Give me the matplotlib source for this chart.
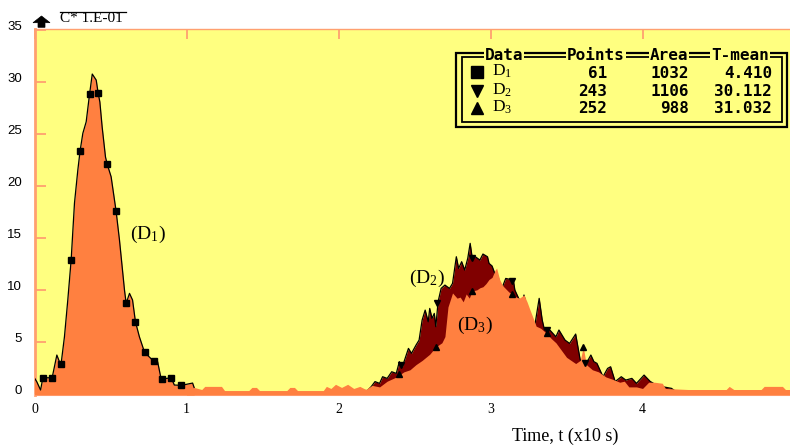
import matplotlib
matplotlib.use("Agg")
import matplotlib.pyplot as plt
from matplotlib.patches import Rectangle, Polygon
from matplotlib.lines import Line2D

plt.rcParams['mathtext.default'] = 'regular'

# ---------------- data ----------------
# D1 : first elution peak (time in x10 s, concentration in 1.E-01 units)
d1_t = [0.000, 0.015, 0.040, 0.055, 0.116, 0.147, 0.164, 0.175, 0.197, 0.219,
        0.241, 0.263, 0.285, 0.300, 0.318, 0.340, 0.362, 0.380, 0.406, 0.419,
        0.430, 0.445, 0.467, 0.478, 0.504, 0.537, 0.559, 0.592, 0.603, 0.625,
        0.645, 0.664, 0.690, 0.724, 0.783, 0.810, 0.830, 0.840, 0.899, 0.920,
        0.967, 1.040, 1.050]
d1_c = [1.50, 1.15, 0.35, 1.53, 1.53, 3.72, 3.07, 2.88, 5.48, 9.02,
        12.87, 18.36, 21.54, 23.40, 25.08, 26.19, 28.83, 30.79, 30.21, 28.93,
        28.10, 25.70, 22.80, 22.12, 20.90, 17.56, 14.80, 9.98, 8.70, 9.66,
        9.02, 6.93, 5.48, 3.98, 3.14, 3.07, 1.63, 1.41, 1.53, 0.83,
        0.80, 1.02, 0.60]
d1_mark_t = [0.055, 0.116, 0.175, 0.241, 0.300, 0.362, 0.419, 0.478, 0.537,
             0.603, 0.664, 0.724, 0.783, 0.840, 0.899, 0.967]
d1_mark_c = [1.53, 1.53, 2.88, 12.87, 23.40, 28.83, 28.93, 22.12, 17.56,
             8.70, 6.93, 3.98, 3.14, 1.41, 1.53, 0.80]

# D2 : second peak (upper, dark fill)
d2_t = [2.170, 2.190, 2.215, 2.240, 2.270, 2.290, 2.320, 2.350, 2.380, 2.400,
        2.420, 2.460, 2.480, 2.510, 2.530, 2.550, 2.570, 2.590, 2.600, 2.615,
        2.630, 2.640, 2.655, 2.675, 2.700, 2.730, 2.750, 2.775, 2.790, 2.810,
        2.830, 2.850, 2.866, 2.880, 2.900, 2.930, 2.950, 2.980, 2.990, 3.010,
        3.030, 3.050, 3.070, 3.100, 3.150, 3.160, 3.180, 3.210, 3.220, 3.260,
        3.290, 3.320, 3.340, 3.355, 3.390, 3.430, 3.450, 3.490, 3.520, 3.560,
        3.590, 3.630, 3.660, 3.680, 3.700, 3.740, 3.770, 3.790, 3.820, 3.860,
        3.890, 3.930, 3.960, 4.010, 4.050, 4.090, 4.130, 4.190, 4.210]
d2_c = [0.30, 0.30, 0.67, 1.16, 0.99, 1.63, 1.47, 2.11, 1.95, 3.08,
        2.59, 4.36, 3.88, 4.68, 5.16, 7.09, 8.05, 6.93, 8.21, 7.25,
        7.73, 6.45, 8.86, 10.14, 10.46, 10.14, 10.62, 13.19, 12.07, 12.71,
        11.91, 13.03, 14.48, 13.03, 13.19, 12.87, 13.45, 13.19, 12.55, 12.30,
        11.50, 11.26, 9.98, 11.10, 10.94, 9.98, 9.34, 8.37, 9.50, 7.09,
        6.45, 9.18, 7.09, 6.13, 6.13, 5.48, 6.13, 5.16, 4.84, 5.74,
        3.24, 2.92, 3.72, 3.08, 2.92, 1.63, 2.43, 2.59, 1.16, 1.63,
        1.31, 1.47, 0.99, 1.79, 1.18, 0.83, 0.67, 0.51, 0.30]
d2_mark_t = [2.41, 2.65, 2.88, 3.14, 3.37, 3.62]
d2_mark_c = [2.80, 8.70, 13.03, 10.90, 6.13, 3.00]

# D3 : third series (lower, orange fill), including the low baseline
d3_t = [1.00, 1.05, 1.10, 1.12, 1.23, 1.25, 1.41, 1.43, 1.46, 1.48,
        1.66, 1.68, 1.71, 1.73, 1.90, 1.92, 1.95, 1.98, 2.02, 2.06,
        2.10, 2.14, 2.18, 2.22, 2.27, 2.32, 2.38, 2.43, 2.47, 2.51,
        2.55, 2.60, 2.64, 2.68, 2.70, 2.72, 2.75, 2.78, 2.80, 2.82,
        2.84, 2.86, 2.88, 2.91, 2.93, 2.95, 2.97, 2.99, 3.01, 3.03,
        3.04, 3.06, 3.08, 3.10, 3.12, 3.14, 3.17, 3.19, 3.22, 3.24,
        3.26, 3.28, 3.30, 3.33, 3.37, 3.40, 3.43, 3.46, 3.50, 3.53,
        3.56, 3.59, 3.61, 3.63, 3.67, 3.71, 3.76, 3.80, 3.85, 3.88,
        3.91, 3.96, 4.00, 4.04, 4.08, 4.13, 4.15, 4.30, 4.55, 4.57,
        4.60, 4.78, 4.80, 4.92, 4.94, 4.97]
d3_c = [0.80, 0.60, 0.40, 0.70, 0.70, 0.30, 0.30, 0.60, 0.60, 0.30,
        0.30, 0.60, 0.60, 0.30, 0.30, 0.70, 0.50, 0.90, 0.60, 0.90,
        0.50, 0.70, 0.40, 0.80, 0.65, 1.20, 1.60, 2.10, 2.30, 2.80,
        3.20, 3.80, 4.50, 4.90, 5.50, 8.35, 9.70, 9.20, 9.30, 8.85,
        9.60, 9.20, 9.90, 10.00, 10.20, 10.30, 10.60, 11.00, 11.20, 11.90,
        12.10, 11.00, 10.40, 10.10, 9.80, 9.60, 9.30, 9.20, 9.50, 8.85,
        8.05, 7.30, 6.50, 6.30, 5.80, 5.30, 4.90, 4.30, 3.50, 3.20,
        2.90, 3.20, 4.50, 2.80, 2.30, 2.10, 1.60, 1.40, 1.10, 1.20,
        0.65, 0.65, 0.50, 1.10, 1.10, 1.00, 0.50, 0.40, 0.40, 0.70,
        0.40, 0.40, 0.70, 0.70, 0.40, 0.40]
d3_mark_t = [2.40, 2.64, 2.88, 3.14, 3.37, 3.61]
d3_mark_c = [1.90, 4.50, 9.90, 9.60, 5.80, 4.50]

# summary table
table_names = ['D$_1$', 'D$_2$', 'D$_3$']
table_points = ['61', '243', '252']
table_area = ['1032', '1106', '988']
table_tmean = ['4.410', '30.112', '31.032']
table_markers = ['s', 'v', '^']

x_ticks = [0, 1, 2, 3, 4]
y_ticks = [0, 5, 10, 15, 20, 25, 30, 35]

# ---------------- style ----------------
YELLOW = '#FFFF80'
ORANGE = '#FF8040'
DARKRED = '#800000'
EDGE = '#FFA070'
W, H = 790, 447
YMIN, YMAX = -0.13, 35.13


def fx(px):
    return px / W


def fy(py):
    return 1 - py / H


fig = plt.figure(figsize=(7.9, 4.47), dpi=100)
fig.patch.set_facecolor('white')
ax = fig.add_axes([fx(34.5), fy(395), fx(790) - fx(34.5), fy(29) - fy(395)])
ax.set_xlim(0, 4.97)
ax.set_ylim(YMIN, YMAX)
ax.set_facecolor(YELLOW)

# D2 filled dark, then D3 on top in orange
ax.fill_between(d2_t, d2_c, YMIN, color=DARKRED, lw=0, zorder=2)
ax.plot(d2_t, d2_c, color='black', lw=0.9, zorder=3)
ax.fill_between(d3_t, d3_c, YMIN, color=ORANGE, lw=0, zorder=4)
ax.plot(d2_mark_t, d2_mark_c, 'v', color='black', ms=5, zorder=6)
ax.plot(d3_mark_t, d3_mark_c, '^', color='black', ms=5, zorder=6)

# D1
ax.fill_between(d1_t, d1_c, YMIN, color=ORANGE, lw=0, zorder=4)
ax.plot(d1_t, d1_c, color='black', lw=0.9, zorder=5)
ax.plot(d1_mark_t, d1_mark_c, 's', color='black', ms=5, zorder=6)

# series labels
lab_kw = dict(family='Liberation Serif', size=14, va='center', ha='left', zorder=7)
ax.text(0.625, 15.3, '(D$_1$)', **lab_kw)
ax.text(2.465, 11.1, '(D$_2$)', **lab_kw)
ax.text(2.78, 6.6, '(D$_3$)', **lab_kw)

# axes styling
ax.spines['right'].set_visible(False)
ax.spines['left'].set_color(EDGE)
ax.spines['left'].set_linewidth(2)
ax.spines['top'].set_color(EDGE)
ax.spines['top'].set_linewidth(1)
ax.spines['bottom'].set_color('#FFB090')
ax.spines['bottom'].set_linewidth(1.5)

ax.set_yticks(y_ticks)
ax.set_yticklabels([str(v) for v in y_ticks], family='Liberation Sans', size=9.5)
ax.tick_params(axis='y', direction='in', length=8, width=1.3, color=EDGE, pad=9)
plt.setp(ax.get_yticklabels(), va='baseline')

ax.set_xticks(x_ticks)
ax.set_xticklabels([str(v) for v in x_ticks], family='Liberation Serif', size=10)
ax.tick_params(axis='x', direction='in', top=True, length=7, width=1.3,
               color=EDGE, pad=6)
for t in ax.xaxis.get_major_ticks():
    t.tick1line.set_visible(False)

# y-axis caption with arrow
fig.add_artist(Polygon([(fx(33), fy(22.7)), (fx(41.5), fy(16)), (fx(50), fy(22.7)),
                        (fx(45), fy(22.7)), (fx(45), fy(27.3)), (fx(38), fy(27.3)),
                        (fx(38), fy(22.7))], closed=True, transform=fig.transFigure,
                       fc='black', ec='black', lw=0.5))
fig.text(fx(60), fy(19), 'C* 1.E-01', family='Liberation Serif', size=11,
         ha='left', va='center')
fig.add_artist(Line2D([fx(60), fx(126)], [fy(11.7), fy(11.7)], color='black',
                      lw=0.9, transform=fig.transFigure))

# x-axis caption
fig.text(fx(565), fy(436), 'Time, t (x10 s)', family='Liberation Serif', size=13,
         ha='center', va='center')

# summary table with double border
fig.add_artist(Rectangle((fx(456), fy(127)), fx(787) - fx(456), fy(53) - fy(127),
                         fill=False, ec='black', lw=1.6, transform=fig.transFigure))
fig.add_artist(Rectangle((fx(462), fy(122)), fx(782) - fx(462), fy(57.5) - fy(122),
                         fill=False, ec='black', lw=1.3, transform=fig.transFigure))
mono = dict(family='DejaVu Sans Mono', weight='bold', size=11.5, va='center')
hdr_bbox = dict(fc=YELLOW, ec='none', pad=0.6)
for word, left in [('Data', 485), ('Points', 567), ('Area', 650), ('T-mean', 711)]:
    fig.text(fx(left), fy(55.5), word, ha='left', bbox=hdr_bbox, zorder=5, **mono)

row_y = [73, 91.5, 108.5]
for i, yy in enumerate(row_y):
    fig.add_artist(Line2D([fx(477)], [fy(yy - 1)], marker=table_markers[i], ms=8,
                          color='black', linestyle='none', transform=fig.transFigure))
    fig.text(fx(492), fy(yy - 1.5), table_names[i], family='Liberation Serif',
             size=12.5, ha='left', va='center')
    fig.text(fx(607), fy(yy), table_points[i], ha='right', **mono)
    fig.text(fx(689), fy(yy), table_area[i], ha='right', **mono)
    fig.text(fx(772), fy(yy), table_tmean[i], ha='right', **mono)

fig.savefig('out.png', dpi=100, facecolor='white')
